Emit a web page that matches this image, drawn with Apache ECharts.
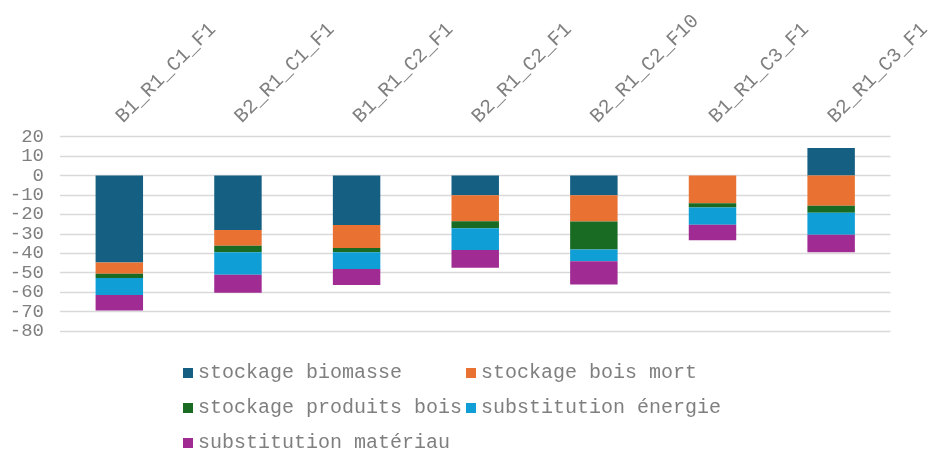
<!DOCTYPE html>
<html>
<head>
<meta charset="utf-8">
<script src="https://cdn.jsdelivr.net/npm/echarts@6/dist/echarts.min.js"></script>
<style>
  html, body { margin: 0; padding: 0; background: #ffffff; }
  #chart { width: 933px; height: 450px; }
</style>
</head>
<body>
<div id="chart"></div>
<script>
// Scenario names along the horizontal axis
const categories = ['B1_R1_C1_F1', 'B2_R1_C1_F1', 'B1_R1_C2_F1', 'B2_R1_C2_F1', 'B2_R1_C2_F10', 'B1_R1_C3_F1', 'B2_R1_C3_F1'];

// Contribution of each component (stacked)
const stockageBiomasse = [-44.8, -28.0, -25.4, -10.1, -10.1, 0, 14.2];
const stockageBoisMort = [-5.7, -8.1, -11.9, -13.4, -13.6, -14.3, -15.6];
const stockageProduitsBois = [-2.2, -3.4, -2.2, -3.6, -14.4, -2.2, -3.5];
const substitutionEnergie = [-8.8, -11.5, -8.6, -11.2, -6.0, -8.8, -11.3];
const substitutionMateriau = [-8.0, -9.3, -8.2, -9.1, -12.0, -8.0, -9.1];

const seriesNames = ['stockage biomasse', 'stockage bois mort', 'stockage produits bois', 'substitution énergie', 'substitution matériau'];
const seriesValues = [stockageBiomasse, stockageBoisMort, stockageProduitsBois, substitutionEnergie, substitutionMateriau];
const colors = ['#156082', '#E97132', '#196B24', '#0F9ED5', '#A02B93'];

const font = 'Liberation Mono';
const textColor = '#7f7f7f';

const chart = echarts.init(document.getElementById('chart'), null, { renderer: 'canvas' });

// Legend laid out as a two-column table: one legend block per entry
const legendSlots = [[183, 363], [466, 363], [183, 398], [466, 398], [183, 433]];
const legends = seriesNames.map((name, i) => ({
  data: [name],
  left: legendSlots[i][0], top: legendSlots[i][1],
  padding: 0,
  icon: 'rect', itemWidth: 10, itemHeight: 10, itemGap: 0,
  textStyle: { fontFamily: font, fontSize: 20, color: textColor }
}));

chart.setOption({
  animation: false,
  color: colors,
  grid: { left: 60, right: 33, top: 136.7, bottom: 119, containLabel: false },
  legend: legends,
  xAxis: {
    type: 'category',
    data: categories,
    position: 'top',
    axisLine: { show: false },
    axisTick: { show: false },
    axisLabel: {
      rotate: 45, margin: 17,
      fontFamily: font, fontSize: 20, color: textColor
    }
  },
  yAxis: {
    type: 'value',
    min: -80, max: 20, interval: 10,
    axisLine: { show: false },
    axisTick: { show: false },
    axisLabel: { fontFamily: font, fontSize: 19, color: textColor, margin: 16 },
    splitLine: { lineStyle: { color: '#d9d9d9', width: 1.3 } }
  },
  series: seriesNames.map((name, i) => ({
    name: name,
    type: 'bar',
    stack: 'total',
    barWidth: '40%',
    data: seriesValues[i],
    itemStyle: { color: colors[i] }
  }))
});
</script>
</body>
</html>
